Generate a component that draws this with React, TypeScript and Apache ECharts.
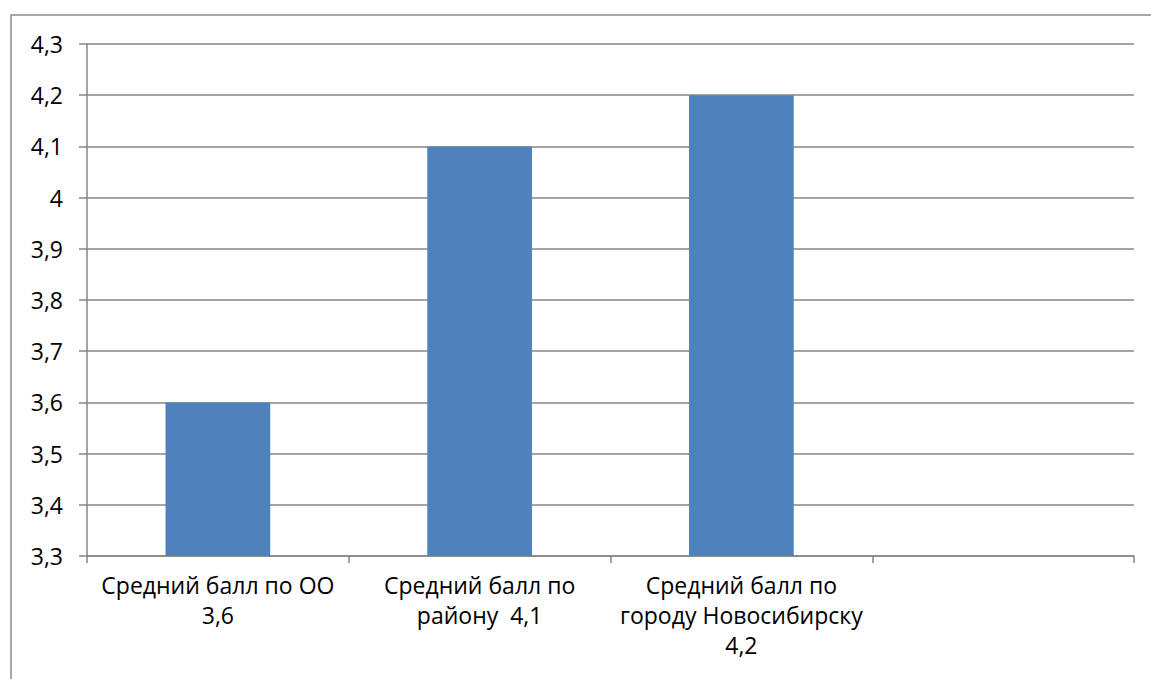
import React, { useEffect, useRef } from "react";
import * as echarts from "echarts";

const categories = [
  "Средний балл по ОО\n3,6",
  "Средний балл по\nрайону  4,1",
  "Средний балл по\nгороду Новосибирску\n4,2",
  "",
];
const values: (number | null)[] = [3.6, 4.1, 4.2, null];
const yMin = 3.3;
const yMax = 4.3;
const yInterval = 0.1;

export default function App() {
  const ref = useRef<HTMLDivElement>(null);
  useEffect(() => {
    if (!ref.current) return;
    const chart = echarts.init(ref.current, undefined, { renderer: "svg" });
    const font = "Open Sans";
    chart.setOption({
      animation: false,
      graphic: [
        {
          type: "rect",
          shape: { x: 11, y: 15, width: 1200, height: 720 },
          style: { fill: "none", stroke: "#8a8a8a", lineWidth: 1.5 },
          silent: true,
        },
      ],
      grid: { left: 87, top: 44, right: 17, bottom: 123 },
      xAxis: {
        type: "category",
        data: categories,
        boundaryGap: true,
        axisLine: { show: true, lineStyle: { color: "#868686", width: 1.5 } },
        axisTick: { show: true, length: 7, interval: 0, alignWithLabel: false, lineStyle: { color: "#868686", width: 1.5 } },
        axisLabel: {
          interval: 0,
          margin: 14,
          color: "#000",
          fontFamily: font,
          fontSize: 23,
          lineHeight: 30,
        },
      },
      yAxis: {
        type: "value",
        min: yMin,
        max: yMax,
        interval: yInterval,
        axisLine: { show: true, lineStyle: { color: "#868686", width: 1.5 } },
        axisTick: { show: true, length: 8, lineStyle: { color: "#868686", width: 1.5 } },
        splitLine: { show: true, lineStyle: { color: "#868686", width: 1.5 } },
        axisLabel: {
          margin: 24,
          color: "#000",
          fontFamily: font,
          fontSize: 23,
          formatter: (v: number) => {
            const r = Math.round(v * 10) / 10;
            return String(r).replace(".", ",");
          },
        },
      },
      series: [
        {
          type: "bar",
          data: values,
          barWidth: "40%",
          itemStyle: { color: "#4F81BD" },
        },
      ],
    });
    return () => chart.dispose();
  }, []);
  return (
    <div
      ref={ref}
      style={{ position: "fixed", left: 0, top: 0, width: 1151, height: 679, background: "#fff" }}
    />
  );
}
